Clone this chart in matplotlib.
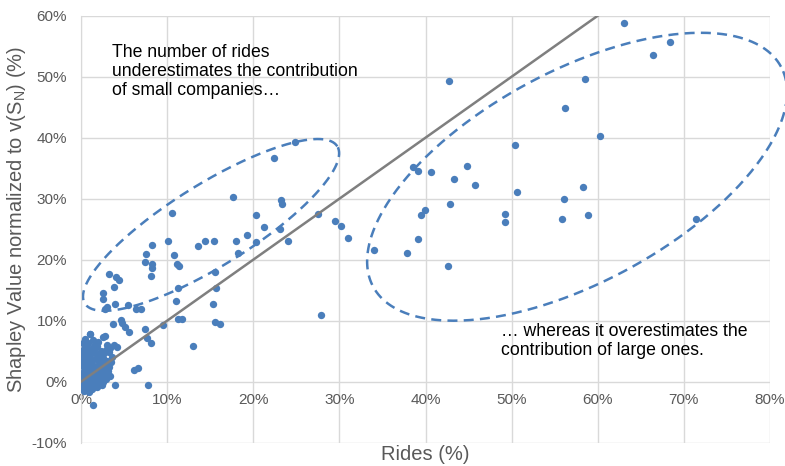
import numpy as np
import matplotlib
matplotlib.use("Agg")
import matplotlib.pyplot as plt
from matplotlib.ticker import FuncFormatter

plt.rcParams['font.family'] = ['Liberation Sans', 'DejaVu Sans']

# Rides share (%) and Shapley value share (%) per company
# dense cluster of very small companies
cluster_x = [0.0, 0.1, 0.1, 0.2, 0.2, 0.3, 0.3, 0.3, 0.4, 0.4, 0.5, 0.5, 0.6, 0.6, 0.7, 0.7,
             0.8, 0.8, 0.9, 0.9, 1.0, 1.0, 1.1, 1.1, 1.2, 1.2, 1.3, 1.3, 1.4, 1.4, 1.5, 1.5,
             1.6, 1.6, 1.7, 1.8, 1.8, 1.9, 1.9, 2.0, 2.0, 2.1, 2.2, 2.2, 2.3, 2.4, 2.4, 2.5,
             2.6, 2.6, 2.7, 2.8, 2.9, 3.0, 3.0, 3.1, 3.2, 3.3, 3.4, 3.4, 3.5, 3.6,
             0.0, 0.0, 0.0, 0.1, 0.2, 0.5, 1.0, 0.3, 0.6, 1.2, 0.8, 1.6, 2.1, 2.9,
             0.4, 0.9, 1.3, 1.7, 2.3, 2.7, 1.1, 0.6, 1.5, 2.0, 2.5, 1.0, 0.2, 1.8, 3.2, 2.8]
cluster_y = [0.0, 1.2, -0.8, 2.5, 0.6, -1.5, 3.6, 1.8, 4.8, -0.3, 2.9, 0.9, 5.9, -1.1, 3.9, 1.5,
             0.2, 6.3, 2.2, -1.7, 4.4, 3.1, 0.8, -0.6, 5.3, 1.9, 3.5, -1.2, 0.3, 6.8, 2.6, 4.9,
             -0.2, 1.4, 3.8, 5.8, 0.7, 2.3, -0.9, 4.3, 6.5, 1.6, 3.2, 0.1, 5.1, 2.0, -0.5, 3.9,
             1.1, 7.3, 4.7, 2.8, 0.4, 6.0, 3.4, 1.7, 4.9, 2.4, 5.5, 0.9, 3.3, 4.1,
             3.0, 5.0, -1.0, 4.2, 6.4, 7.0, 7.8, 5.4, -0.4, 2.8, 4.0, 5.6, 2.9, 5.2,
             1.3, 5.0, 0.9, 2.1, 1.0, 3.1, 2.0, 3.4, 5.9, 0.5, 0.0, -1.4, 4.4, 4.4, 1.0, 2.0]

# remaining companies
other_x = [1.4, 3.9, 7.8, 6.1, 6.6, 3.8, 4.2, 2.8, 1.1, 3.7, 4.6, 4.8, 5.1, 5.6, 7.4, 7.7,
           8.1, 9.5, 13.0, 11.3, 11.7, 15.6, 16.1,
           3.0, 2.8, 4.0, 5.5, 6.4, 7.0, 2.5, 2.6, 3.8, 3.3, 4.1, 4.4, 8.1, 7.4, 8.2, 8.2,
           7.5, 8.3, 10.1, 10.8, 11.2, 11.4, 10.6, 13.6, 14.4, 15.4, 15.6, 11.3, 15.7, 11.0,
           15.3, 17.6, 18.0, 18.2, 19.3, 20.3, 20.3, 21.2, 22.4, 23.1, 23.2, 23.3, 24.0, 24.9,
           27.5, 27.9, 29.5, 30.2, 31.0,
           34.0, 37.9, 38.6, 39.1, 39.1, 39.5, 39.9, 40.6, 42.6, 42.7, 42.8, 43.3, 44.8, 45.7,
           49.2, 49.2, 50.4, 50.6, 55.8, 56.1, 56.2, 58.3, 58.5, 58.9, 60.3, 63.0, 66.4, 68.4,
           71.4]
other_y = [-3.9, -0.5, -0.5, 2.0, 2.2, 6.0, 5.7, 7.5, 7.9, 9.4, 10.1, 9.6, 8.9, 8.1, 8.6, 7.2,
           6.3, 9.3, 5.9, 10.3, 10.3, 9.8, 9.5,
           12.3, 11.9, 12.7, 12.5, 11.9, 11.9, 14.5, 13.6, 15.6, 17.6, 17.2, 16.7, 17.3, 19.7, 19.3, 18.6,
           20.9, 22.4, 23.1, 20.7, 19.3, 18.9, 27.6, 22.2, 23.1, 23.1, 18.0, 15.4, 15.3, 13.2,
           12.7, 30.3, 23.1, 21.1, 24.0, 27.4, 22.9, 25.3, 36.7, 25.1, 29.8, 29.2, 23.1, 39.3,
           27.5, 11.0, 26.4, 25.6, 23.5,
           21.6, 21.1, 35.2, 34.6, 23.4, 27.4, 28.1, 34.3, 18.9, 49.3, 29.2, 33.3, 35.4, 32.3,
           27.5, 26.2, 38.8, 31.1, 26.6, 29.9, 44.8, 32.0, 49.7, 27.3, 40.2, 58.8, 53.6, 55.7,
           26.6]

rides = cluster_x + other_x
shapley = cluster_y + other_y

x_ticks = [0, 10, 20, 30, 40, 50, 60, 70, 80]
y_ticks = [-10, 0, 10, 20, 30, 40, 50, 60]

blue = '#4a7ebb'
grey_text = '#595959'

fig = plt.figure(figsize=(7.85, 4.66), dpi=100)
ax = fig.add_axes([0.1032, 0.05, 0.8777, 0.9163])

ax.set_xlim(0, 80)
ax.set_ylim(-10, 60)
ax.set_xticks(x_ticks)
ax.set_yticks(y_ticks)
pct = FuncFormatter(lambda v, _: f'{v:.0f}%')
ax.xaxis.set_major_formatter(pct)
ax.yaxis.set_major_formatter(pct)

ax.grid(True, color='#d9d9d9', lw=1)
ax.set_axisbelow(True)
for s in ['top', 'right', 'bottom']:
    ax.spines[s].set_visible(False)
ax.spines['left'].set_color('#d9d9d9')
ax.spines['bottom'].set_position(('data', 0))
ax.tick_params(axis='both', length=0, labelsize=11, labelcolor=grey_text)
ax.tick_params(axis='x', pad=8)
ax.tick_params(axis='y', pad=10)

ax.scatter(rides, shapley, s=28, color=blue, zorder=3, linewidths=0)
ax.axline((0, 0), slope=1, color='#7f7f7f', lw=1.8, zorder=4)

# dashed ellipses, shaped in screen space so the tilt matches the picture
px_x = fig.get_figwidth() * fig.dpi * ax.get_position().width / 80
px_y = fig.get_figheight() * fig.dpi * ax.get_position().height / 70


def ellipse(cx, cy, a, b, theta_deg, clip=True):
    t = np.linspace(0, 2 * np.pi, 400)
    th = np.radians(theta_deg)
    u = a * np.cos(t) * np.cos(th) - b * np.sin(t) * np.sin(th)
    v = a * np.cos(t) * np.sin(th) + b * np.sin(t) * np.cos(th)
    ax.plot(cx + u / px_x, cy + v / px_y, color=blue, lw=1.8,
            linestyle=(0, (4, 2.5)), clip_on=clip, zorder=2)


ellipse(15.1, 25.7, 148.7, 40.9, 31.9)
ellipse(57.6, 33.6, 231.7, 105.5, 28.35, clip=False)

ax.text(3.6, 55.4, 'The number of rides\nunderestimates the contribution\nof small companies\u2026',
        fontsize=12.7, color='black', va='top', ha='left', linespacing=1.18)
ax.text(48.8, 9.6, '\u2026 whereas it overestimates the\ncontribution of large ones.',
        fontsize=12.7, color='black', va='top', ha='left', linespacing=1.18)

ax.set_xlabel('Rides (%)', fontsize=14.5, color=grey_text)
ax.set_ylabel(r'Shapley Value normalized to v(S$_\mathregular{N}$) (%)', fontsize=14.5, color=grey_text)
ax.xaxis.set_label_coords(0.5, -0.005)
ax.yaxis.set_label_coords(-0.077, 0.524)

fig.savefig('out.png', dpi=100)
